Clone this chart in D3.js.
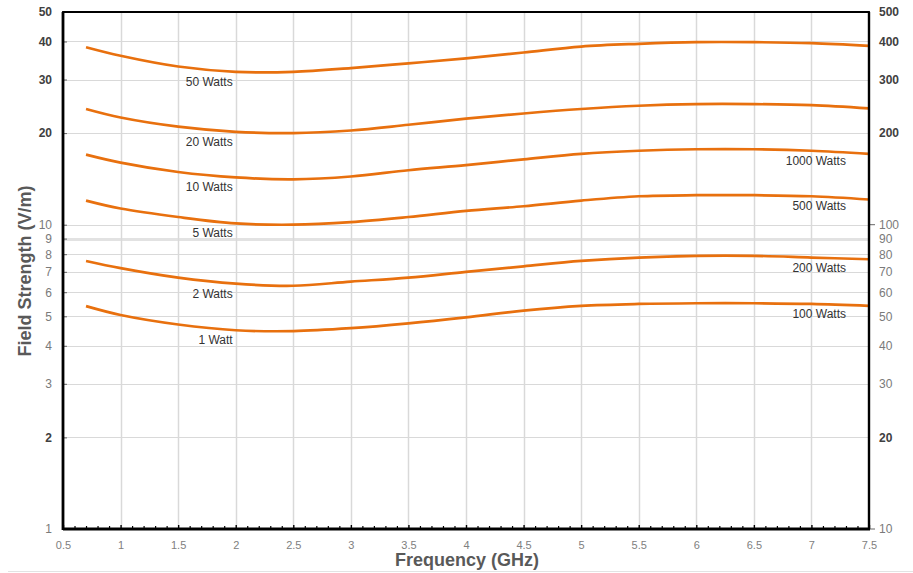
<!DOCTYPE html>
<html>
<head>
<meta charset="utf-8">
<script src="https://cdn.jsdelivr.net/npm/d3@7"></script>
<style>
  body { margin: 0; background: #fff; }
  text { font-family: "Liberation Sans", Arial, sans-serif; }
</style>
</head>
<body>
<div id="chart"></div>
<script>
// Frequency points (GHz)
var freqs = [0.7, 1, 1.5, 2, 2.5, 3, 3.5, 4, 4.5, 5, 5.5, 6, 6.5, 7, 7.5];

// Field strength (V/m)
var watts50 = [38.3, 35.9, 33.1, 31.8, 31.8, 32.7, 33.9, 35.2, 36.8, 38.5, 39.3, 39.8, 39.8, 39.5, 38.7];
var watts20 = [24.0, 22.5, 21.0, 20.2, 20.0, 20.4, 21.3, 22.3, 23.2, 24.0, 24.6, 24.9, 24.9, 24.7, 24.1];
var watts10 = [17.0, 16.0, 14.9, 14.3, 14.1, 14.4, 15.1, 15.7, 16.4, 17.1, 17.5, 17.7, 17.7, 17.5, 17.1];
var watts5  = [12.0, 11.3, 10.6, 10.1, 10.0, 10.2, 10.6, 11.1, 11.5, 12.0, 12.4, 12.5, 12.5, 12.4, 12.1];
var watts2  = [7.6, 7.2, 6.7, 6.4, 6.3, 6.5, 6.7, 7.0, 7.3, 7.6, 7.8, 7.9, 7.9, 7.8, 7.7];
var watts1  = [5.4, 5.05, 4.7, 4.5, 4.47, 4.57, 4.74, 4.96, 5.22, 5.41, 5.49, 5.52, 5.52, 5.49, 5.41];

var seriesValues = [watts50, watts20, watts10, watts5, watts2, watts1];
// labels read against the left axis / the right axis (x10 scale)
var leftNames = ["50 Watts", "20 Watts", "10 Watts", "5 Watts", "2 Watts", "1 Watt"];
var rightNames = [null, null, "1000 Watts", "500 Watts", "200 Watts", "100 Watts"];

// Tick labels
var xTicks = [0.5, 1, 1.5, 2, 2.5, 3, 3.5, 4, 4.5, 5, 5.5, 6, 6.5, 7, 7.5];
var leftTicks = [1, 2, 3, 4, 5, 6, 7, 8, 9, 10, 20, 30, 40, 50];
var rightTicks = [10, 20, 30, 40, 50, 60, 70, 80, 90, 100, 200, 300, 400, 500];
var leftBold = [50, 40, 30, 20, 2];
var rightBold = [500, 400, 300, 200, 20];

var w = 913, h = 573;
var plotL = 63, plotR = 869, plotT = 12, plotB = 529;

var svg = d3.select("#chart").append("svg")
            .attr("width", w).attr("height", h);

var x = d3.scaleLinear().domain([0.5, 7.5]).range([plotL, plotR]);
var y = d3.scaleLog().domain([1, 50]).range([plotB, plotT]);
var y2 = d3.scaleLog().domain([10, 500]).range([plotB, plotT]);

// faint outer border line at the bottom
svg.append("line")
   .attr("x1", 8).attr("x2", w).attr("y1", 571.5).attr("y2", 571.5)
   .attr("stroke", "#e3e3e3").attr("stroke-width", 1);

// Gridlines
var grid = svg.append("g");
grid.selectAll(".hgrid")
    .data(leftTicks.filter(function(d) { return d > 1 && d < 50; }))
    .enter().append("line")
    .attr("x1", plotL).attr("x2", plotR)
    .attr("y1", function(d) { return Math.round(y(d)) + 0.5; })
    .attr("y2", function(d) { return Math.round(y(d)) + 0.5; })
    .attr("stroke", function(d) { return d == 9 ? "#e2e2e2" : "#d9d9d9"; })
    .attr("stroke-width", function(d) { return d == 9 ? 2.8 : 1.2; });

grid.selectAll(".vgrid")
    .data(xTicks.filter(function(d) { return d > 0.5 && d < 7.5; }))
    .enter().append("line")
    .attr("y1", plotT).attr("y2", plotB)
    .attr("x1", function(d) { return Math.round(x(d)) + 0.5; })
    .attr("x2", function(d) { return Math.round(x(d)) + 0.5; })
    .attr("stroke", "#d9d9d9").attr("stroke-width", 1.5);

// Curves
var line = d3.line()
             .x(function(d, i) { return x(freqs[i]); })
             .y(function(d) { return y(d); })
             .curve(d3.curveCatmullRom.alpha(0.5));

svg.append("g").selectAll("path")
   .data(seriesValues)
   .enter().append("path")
   .attr("d", line)
   .attr("fill", "none")
   .attr("stroke", "#e8700e")
   .attr("stroke-width", 2.7);

// Series labels
var i2 = freqs.indexOf(2), i7 = freqs.indexOf(7);
svg.append("g").selectAll("text")
   .data(seriesValues)
   .enter().append("text")
   .attr("x", x(2) - 3)
   .attr("y", function(d) { return y(d[i2]) + 14; })
   .attr("text-anchor", "end")
   .attr("font-size", 12)
   .attr("fill", "#333")
   .text(function(d, i) { return leftNames[i]; });

svg.append("g").selectAll("text")
   .data(seriesValues.filter(function(d, i) { return rightNames[i]; }))
   .enter().append("text")
   .attr("x", x(7.3))
   .attr("y", function(d) { return y(d[i7]) + 14; })
   .attr("text-anchor", "end")
   .attr("font-size", 12)
   .attr("fill", "#333")
   .text(function(d) { return rightNames[seriesValues.indexOf(d)]; });

// Bottom axis (major + minor ticks pointing inward)
var minorTicks = d3.range(6, 75).map(function(d) { return d / 10; })
                   .filter(function(d) { return Math.round(d * 10) % 5 != 0; });

svg.append("g")
   .attr("transform", "translate(0," + plotB + ")")
   .call(d3.axisBottom(x).tickValues(minorTicks).tickSize(-3).tickSizeOuter(0).tickFormat(""))
   .call(function(g) { g.select(".domain").remove(); g.selectAll("line").attr("stroke", "#000").attr("stroke-width", 1.2); });

var xAxis = svg.append("g")
   .attr("transform", "translate(0," + plotB + ")")
   .call(d3.axisBottom(x).tickValues(xTicks).tickSize(-4).tickSizeOuter(0)
           .tickPadding(12).tickFormat(d3.format("")));
xAxis.selectAll("text").attr("font-size", 11).attr("fill", "#808080")
     .attr("font-family", "'Liberation Sans', Arial, sans-serif");
xAxis.selectAll("line").attr("stroke", "#000").attr("stroke-width", 1.4);
xAxis.select(".domain").remove();

// Left axis
var yAxis = svg.append("g")
   .attr("transform", "translate(" + plotL + ",0)")
   .call(d3.axisLeft(y).tickValues(leftTicks).tickSize(-4).tickSizeOuter(0)
           .tickPadding(11).tickFormat(d3.format("d")));
yAxis.select(".domain").remove();
yAxis.selectAll("line").attr("stroke", "#666").attr("stroke-width", 1);
yAxis.selectAll("text")
     .attr("font-size", 12)
     .attr("font-family", "'Liberation Sans', Arial, sans-serif")
     .attr("font-weight", function(d) { return leftBold.indexOf(d) >= 0 ? "bold" : "normal"; })
     .attr("fill", function(d) { return leftBold.indexOf(d) >= 0 ? "#404040" : "#7a7a7a"; });

// Right axis
var y2Axis = svg.append("g")
   .attr("transform", "translate(" + plotR + ",0)")
   .call(d3.axisRight(y2).tickValues(rightTicks).tickSize(0).tickSizeOuter(0)
           .tickPadding(10).tickFormat(d3.format("d")));
y2Axis.select(".domain").remove();
y2Axis.selectAll("text")
      .attr("font-size", 12)
      .attr("font-family", "'Liberation Sans', Arial, sans-serif")
      .attr("font-weight", function(d) { return rightBold.indexOf(d) >= 0 ? "bold" : "normal"; })
      .attr("fill", function(d) { return rightBold.indexOf(d) >= 0 ? "#404040" : "#7a7a7a"; });
y2Axis.selectAll(".major")
      .data([10, 100])
      .enter().append("line")
      .attr("x1", 0).attr("x2", 6)
      .attr("y1", function(d) { return y2(d); }).attr("y2", function(d) { return y2(d); })
      .attr("stroke", "#666").attr("stroke-width", 1);

// Plot frame
svg.append("path")
   .attr("d", "M" + plotL + "," + plotT + "H" + plotR + "V" + plotB + "H" + plotL + "Z")
   .attr("fill", "none").attr("stroke", "#000").attr("stroke-width", 1.8);
svg.append("line")
   .attr("x1", plotL).attr("x2", plotL).attr("y1", plotT).attr("y2", plotB + 1)
   .attr("stroke", "#000").attr("stroke-width", 2.8);
svg.append("line")
   .attr("x1", plotL).attr("x2", plotR + 1).attr("y1", plotB).attr("y2", plotB)
   .attr("stroke", "#000").attr("stroke-width", 2.8);
svg.append("line")
   .attr("x1", plotR).attr("x2", plotR).attr("y1", plotT).attr("y2", plotB)
   .attr("stroke", "#000").attr("stroke-width", 2.4);

// Axis titles
svg.append("text")
   .attr("transform", "translate(31," + 271 + ") rotate(-90)")
   .attr("text-anchor", "middle")
   .attr("font-size", 18).attr("font-weight", "bold")
   .attr("fill", "#595959")
   .text("Field Strength (V/m)");

svg.append("text")
   .attr("x", (plotL + plotR) / 2 + 1).attr("y", 566)
   .attr("text-anchor", "middle")
   .attr("font-size", 18).attr("font-weight", "bold")
   .attr("fill", "#595959")
   .text("Frequency (GHz)");
</script>
</body>
</html>
